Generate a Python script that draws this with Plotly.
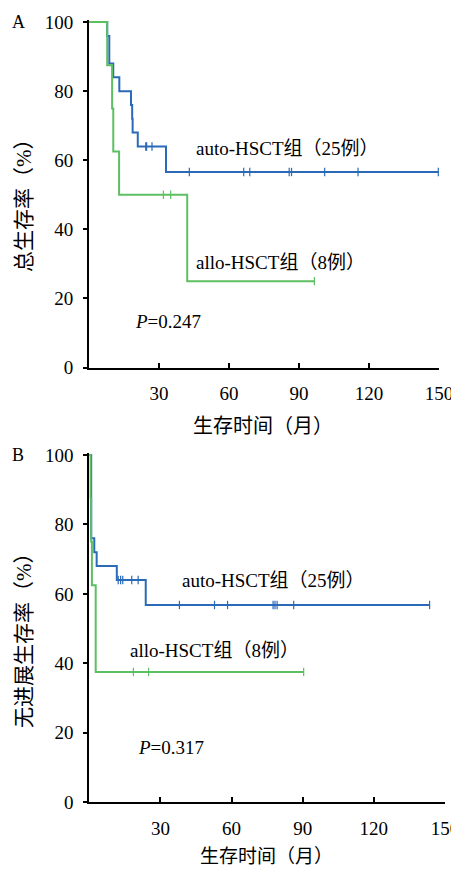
import plotly.graph_objects as go

# ---------------- data ----------------
# Panel A: overall survival
a_auto_t = [0, 7.8, 8.7, 10.4, 13.0, 18.0, 18.5, 18.7, 20.9, 33.0, 149.7]
a_auto_s = [100, 96, 88, 84, 80, 76, 72, 68, 64, 56.6, 56.6]
a_auto_cens_t = [24.3, 24.7, 27.0, 43.0, 66.3, 68.9, 85.8, 86.8, 101.0, 115.3, 149.7]
a_auto_cens_s = [64, 64, 64, 56.6, 56.6, 56.6, 56.6, 56.6, 56.6, 56.6, 56.6]

a_allo_t = [0, 7.8, 9.9, 10.4, 12.9, 42.1, 96.6]
a_allo_s = [100, 87.5, 75, 62.5, 50, 25, 25]
a_allo_cens_t = [31.9, 35.0, 96.6]
a_allo_cens_s = [50, 50, 25]

# Panel B: progression-free survival
b_auto_t = [0, 0.8, 2.1, 3.1, 11.6, 23.8, 143.5]
b_auto_s = [100, 76, 72, 68, 64, 56.8, 56.8]
b_auto_cens_t = [12.2, 13.2, 14.1, 17.9, 20.6, 38.0, 52.8, 58.3, 77.5, 78.3, 79.2, 86.2, 143.5]
b_auto_cens_s = [64, 64, 64, 64, 64, 56.8, 56.8, 56.8, 56.8, 56.8, 56.8, 56.8, 56.8]

b_allo_t = [0, 0.5, 0.8, 1.1, 2.7, 90.4]
b_allo_s = [100, 87.5, 75, 62.5, 37.5, 37.5]
b_allo_cens_t = [18.6, 25.0, 90.4]
b_allo_cens_s = [37.5, 37.5, 37.5]

x_ticks = [30, 60, 90, 120, 150]
y_ticks = [0, 20, 40, 60, 80, 100]

BLUE = "#2a6ab8"
GREEN = "#5cbf62"
FONT = "Liberation Serif, Noto Sans CJK SC"
OFF = 8  # page body margin
W, H = 459 - OFF, 874 - 2 * OFF

fig = go.Figure()

def add_group(t, s, ct, cs, color, xa, ya):
    fig.add_trace(go.Scatter(x=t, y=s, mode="lines", line=dict(color=color, width=2, shape="hv"),
                             xaxis=xa, yaxis=ya, showlegend=False, hoverinfo="skip"))
    fig.add_trace(go.Scatter(x=ct, y=cs, mode="markers",
                             marker=dict(symbol="line-ns", size=6, line=dict(color=color, width=1.2)),
                             xaxis=xa, yaxis=ya, showlegend=False, hoverinfo="skip", cliponaxis=False))

add_group(a_auto_t, a_auto_s, a_auto_cens_t, a_auto_cens_s, BLUE, "x", "y")
add_group(a_allo_t, a_allo_s, a_allo_cens_t, a_allo_cens_s, GREEN, "x", "y")
add_group(b_auto_t, b_auto_s, b_auto_cens_t, b_auto_cens_s, BLUE, "x2", "y2")
add_group(b_allo_t, b_allo_s, b_allo_cens_t, b_allo_cens_s, GREEN, "x2", "y2")

def px_x(p):
    return (p - OFF) / W

def px_y(p):
    return 1 - (p - OFF) / H

xcommon = dict(range=[0, 150], tickvals=x_ticks, ticks="inside", ticklen=5, tickwidth=1.5,
               tickcolor="black", showline=True, linecolor="black", linewidth=2,
               showgrid=False, zeroline=False, ticklabelstandoff=8, automargin=False,
               ticklabeloverflow="allow",
               tickfont=dict(family=FONT, size=19, color="black"))
ycommon = dict(range=[0, 100.6], tickvals=y_ticks, ticks="outside", ticklen=4, tickwidth=1.5,
               tickcolor="black", showline=True, linecolor="black", linewidth=2,
               showgrid=False, zeroline=False, ticklabelstandoff=6, automargin=False,
               ticklabeloverflow="allow",
               tickfont=dict(family=FONT, size=19, color="black"))

fig.update_layout(
    template="none",
    width=W, height=H, margin=dict(l=0, r=0, t=0, b=0, pad=0),
    paper_bgcolor="white", plot_bgcolor="white",
    xaxis=dict(domain=[px_x(89), px_x(439)], anchor="y", **xcommon),
    yaxis=dict(domain=[px_y(367.5), px_y(20)], anchor="x", **ycommon),
    xaxis2=dict(domain=[px_x(89.3), min(1, px_x(445))], anchor="y2", **xcommon),
    yaxis2=dict(domain=[px_y(802), px_y(453)], anchor="x2", **ycommon),
    font=dict(family=FONT, size=18, color="black"),
)

ann = []
def txt(text, x, y, xref, yref, xanchor="left", angle=0, size=19):
    ann.append(dict(text=text, x=x, y=y, xref=xref, yref=yref, xanchor=xanchor, yanchor="middle",
                    showarrow=False, textangle=angle, font=dict(family=FONT, size=size, color="black")))

# Panel A
txt("auto-HSCT组（25例）", 45.0, 63.5, "x", "y")
txt("allo-HSCT组（8例）", 45.0, 30.4, "x", "y")
txt("<i>P</i>=0.247", 18.9, 13.3, "x", "y")
# Panel B
txt("auto-HSCT组（25例）", 38.2, 63.9, "x2", "y2")
txt("allo-HSCT组（8例）", 16.4, 43.6, "x2", "y2")
txt("<i>P</i>=0.317", 19.7, 15.6, "x2", "y2")
# panel letters, axis titles
txt("A", px_x(18), px_y(22), "paper", "paper", xanchor="center", size=18)
txt("B", px_x(18), px_y(455), "paper", "paper", xanchor="center", size=18)
txt("生存时间（月）", px_x(263), px_y(426), "paper", "paper", xanchor="center", size=20)
txt("生存时间（月）", px_x(266), px_y(856), "paper", "paper", xanchor="center", size=19)
txt("总生存率（%）", px_x(24), px_y(200), "paper", "paper", xanchor="center", angle=-90, size=21)
txt("无进展生存率（%）", px_x(24), px_y(635), "paper", "paper", xanchor="center", angle=-90, size=21)

fig.update_layout(annotations=ann)
fig.write_html("out.html")
